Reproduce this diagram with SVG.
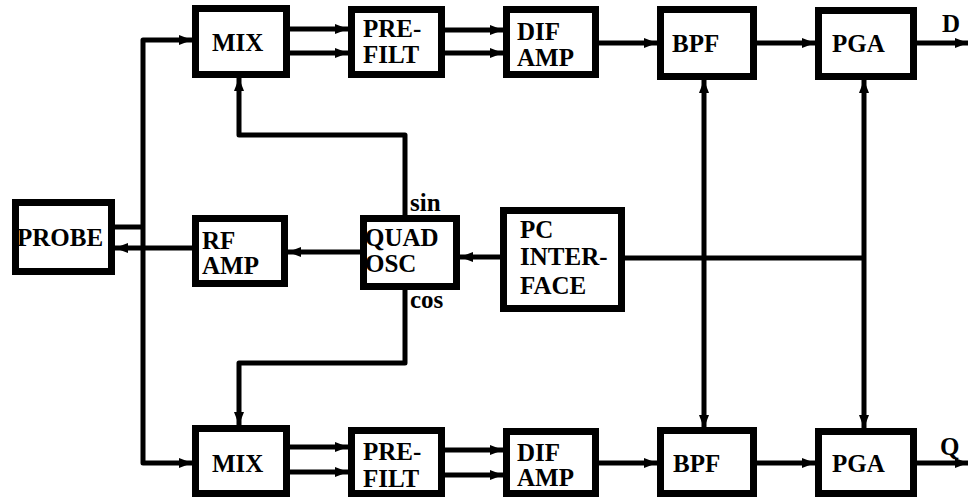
<svg xmlns="http://www.w3.org/2000/svg" width="968" height="497" viewBox="0 0 968 497">
<style>
.box{fill:#fff;stroke:#000;stroke-width:7}
.w{fill:none;stroke:#000;stroke-width:5;stroke-linejoin:round}
.a{marker-end:url(#ah)}
.b{marker-start:url(#ah);marker-end:url(#ah)}
</style>
<defs>
<marker id="ah" markerUnits="userSpaceOnUse" markerWidth="13" markerHeight="10" refX="13" refY="5" orient="auto-start-reverse" viewBox="0 0 13 10">
<path d="M0,0 L13,5 L0,10 z" fill="#000"/>
</marker>
</defs>
<rect width="968" height="497" fill="#fff"/>
<g id="connectors">
<path class="w b" d="M192,40 H143 V463 H192" stroke-width="4"/>
<path class="w" d="M115,227 H143"/>
<path class="w a" d="M192,248 H115"/>
<path class="w a" d="M360,252 H288"/>
<path class="w a" d="M500,257 H460"/>
<path class="w a" d="M405,215 V135 H239 V78"/>
<path class="w a" d="M405,290 V363 H239 V425"/>
<path class="w a" d="M290,29 H348"/>
<path class="w a" d="M290,53 H348"/>
<path class="w a" d="M445,30 H503"/>
<path class="w a" d="M445,53 H503"/>
<path class="w a" d="M599,43 H657"/>
<path class="w a" d="M757,43 H815"/>
<path class="w a" d="M917,43 H968"/>
<path class="w a" d="M290,447 H348"/>
<path class="w a" d="M290,472 H348"/>
<path class="w a" d="M445,450 H503"/>
<path class="w a" d="M445,475 H503"/>
<path class="w a" d="M599,463 H657"/>
<path class="w a" d="M757,463 H815"/>
<path class="w a" d="M917,463 H968"/>
<path class="w" d="M625,258 H864"/>
<path class="w b" d="M704,80 V428"/>
<path class="w b" d="M864,80 V428"/>
</g>
<g font-family="Liberation Serif, serif" font-weight="bold" font-size="25" fill="#000">
<g id="mix_top"><rect class="box" x="195.5" y="8.5" width="91" height="66"/><text x="212" y="51">MIX</text></g>
<g id="prefilt_top"><rect class="box" x="351.5" y="9.5" width="90" height="65"/><text x="363" y="37">PRE-</text><text x="363" y="63">FILT</text></g>
<g id="difamp_top"><rect class="box" x="506.5" y="9.5" width="89" height="65"/><text x="517" y="40">DIF</text><text x="517" y="66">AMP</text></g>
<g id="bpf_top"><rect class="box" x="660.5" y="9.5" width="93" height="67"/><text x="672" y="52">BPF</text></g>
<g id="pga_top"><rect class="box" x="818.5" y="10.5" width="95" height="66"/><text x="832" y="52">PGA</text></g>
<g id="label_d"><text x="942" y="32">D</text></g>
<g id="probe"><rect class="box" x="15.5" y="202.5" width="96" height="69"/><text x="17" y="246">PROBE</text></g>
<g id="rfamp"><rect class="box" x="195.5" y="218.5" width="89" height="65"/><text x="202" y="249">RF</text><text x="202" y="274">AMP</text></g>
<g id="quadosc"><rect class="box" x="363.5" y="218.5" width="93" height="68"/><text x="365" y="246">QUAD</text><text x="365" y="272">OSC</text></g>
<g id="label_sin"><text x="410" y="211">sin</text></g>
<g id="label_cos"><text x="410" y="308">cos</text></g>
<g id="pcinterface"><rect class="box" x="503.5" y="210.5" width="118" height="98"/><text x="520" y="238">PC</text><text x="520" y="265">INTER-</text><text x="520" y="294">FACE</text></g>
<g id="mix_bot"><rect class="box" x="195.5" y="428.5" width="91" height="65"/><text x="212" y="472">MIX</text></g>
<g id="prefilt_bot"><rect class="box" x="351.5" y="430.5" width="90" height="63"/><text x="363" y="460">PRE-</text><text x="363" y="487">FILT</text></g>
<g id="difamp_bot"><rect class="box" x="506.5" y="431.5" width="89" height="62"/><text x="517" y="461">DIF</text><text x="517" y="486">AMP</text></g>
<g id="bpf_bot"><rect class="box" x="660.5" y="430.5" width="93" height="63"/><text x="673" y="472">BPF</text></g>
<g id="pga_bot"><rect class="box" x="818.5" y="431.5" width="95" height="62"/><text x="832" y="472">PGA</text></g>
<g id="label_q"><text x="940" y="455">Q</text></g>
</g>
</svg>
